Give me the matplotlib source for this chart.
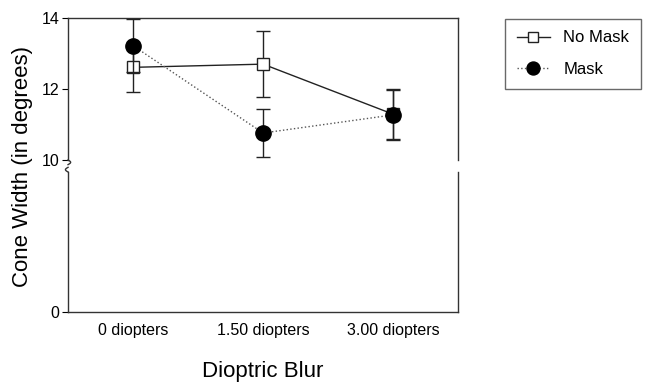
import numpy as np
import matplotlib
matplotlib.use("Agg")
import matplotlib.pyplot as plt

plt.rcParams['font.family'] = ['Liberation Sans', 'DejaVu Sans']

# data
categories = ['0 diopters', '1.50 diopters', '3.00 diopters']
no_mask = [12.61, 12.70, 11.29]
no_mask_err = [0.69, 0.92, 0.70]
mask = [13.22, 10.76, 11.27]
mask_err = [0.75, 0.67, 0.70]

x = np.arange(len(categories))

fig = plt.figure(figsize=(6.48, 3.87), dpi=100)
ax_top = fig.add_axes([0.105, 0.5866, 0.602, 0.3669])
ax_bot = fig.add_axes([0.105, 0.1938, 0.602, 0.3618])

for ax in (ax_top, ax_bot):
    ax.set_xlim(-0.5, 2.5)
    for s in ax.spines.values():
        s.set_color('#333333')
        s.set_linewidth(1.0)

# upper part 10-14
c1 = ax_top.errorbar(x, no_mask, yerr=no_mask_err, color='#222222', lw=1.0,
                     marker='s', ms=8, mfc='white', mec='#222222', mew=1.0,
                     capsize=5, elinewidth=1.0, label='No Mask', zorder=3)
c2 = ax_top.errorbar(x, mask, yerr=mask_err, color='#555555', lw=1.0, ls=':',
                     marker='o', ms=11, mfc='black', mec='black',
                     ecolor='#222222', capsize=5, elinewidth=1.0, label='Mask', zorder=4)
ax_top.set_ylim(10, 14)
ax_top.set_yticks([10, 12, 14])
ax_top.spines['bottom'].set_visible(False)
ax_top.set_xticks([])
ax_top.tick_params(axis='y', direction='out', length=4, labelsize=11.5, pad=2)

# lower part 0-10
ax_bot.set_ylim(0, 10)
ax_bot.set_yticks([0])
ax_bot.spines['top'].set_visible(False)
ax_bot.set_xticks(x)
ax_bot.set_xticklabels(categories, fontsize=11.5)
ax_bot.tick_params(axis='x', length=0, pad=8)
ax_bot.tick_params(axis='y', direction='out', length=4, labelsize=11.5, pad=2)

# break marks on the left spine
t = np.linspace(0, 1, 20)
xb = 0.105
fig.add_artist(plt.Line2D(xb + 0.004 * np.sin(t * np.pi), 0.5866 - 0.012 * t,
                          transform=fig.transFigure, color='#333333', lw=1))
fig.add_artist(plt.Line2D(xb - 0.004 * np.sin(t * np.pi), 0.5556 + 0.012 * t,
                          transform=fig.transFigure, color='#333333', lw=1))

fig.text(0.035, 0.57, 'Cone Width (in degrees)', rotation=90, fontsize=16,
         ha='center', va='center')
fig.text(0.406, 0.04, 'Dioptric Blur', fontsize=16, ha='center', va='center')

leg = ax_top.legend(handles=[c1[0], c2[0]], labels=['No Mask', 'Mask'],
                    loc='upper left', bbox_to_anchor=(1.12, 0.995), frameon=True,
                    fancybox=False, fontsize=12, handlelength=2.0, borderaxespad=0,
                    borderpad=0.7, labelspacing=1.0, markerscale=0.85)
leg.get_frame().set_edgecolor('#444444')
leg.get_frame().set_linewidth(1.0)

fig.savefig('out.png', dpi=100)
